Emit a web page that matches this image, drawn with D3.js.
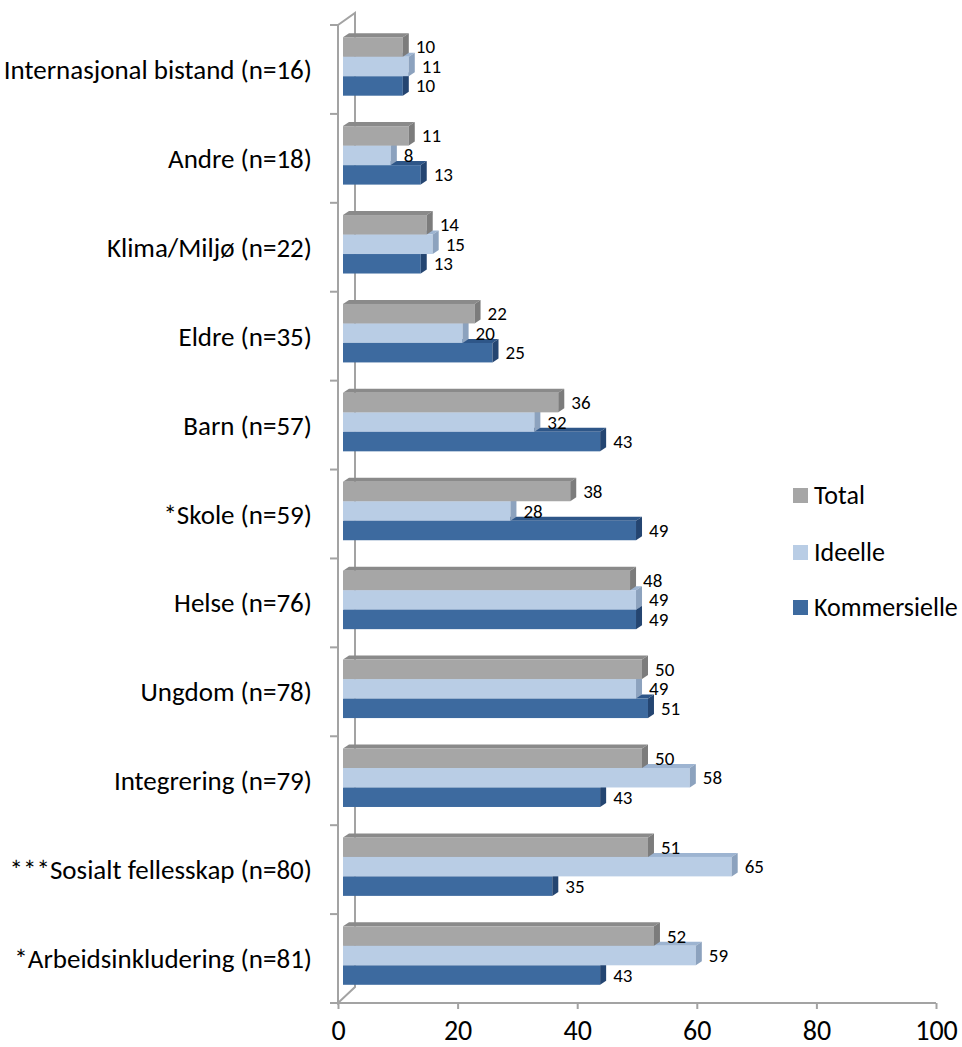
<!DOCTYPE html>
<html>
<head>
<meta charset="utf-8">
<script src="https://cdn.jsdelivr.net/npm/d3@7"></script>
<style>
  html, body { margin: 0; padding: 0; background: #ffffff; }
  svg { display: block; font-family: "Carlito", "Lato", "Open Sans", sans-serif; }
</style>
</head>
<body>
<svg id="chart" width="962" height="1047"></svg>
<script>
const categories = [
  "Internasjonal bistand (n=16)",
  "Andre (n=18)",
  "Klima/Miljø (n=22)",
  "Eldre (n=35)",
  "Barn (n=57)",
  "*Skole (n=59)",
  "Helse (n=76)",
  "Ungdom (n=78)",
  "Integrering (n=79)",
  "***Sosialt fellesskap (n=80)",
  "*Arbeidsinkludering (n=81)"
];
const seriesNames = ["Total", "Ideelle", "Kommersielle"];
const totalValues = [10, 11, 14, 22, 36, 38, 48, 50, 50, 51, 52];
const ideelleValues = [11, 8, 15, 20, 32, 28, 49, 49, 58, 65, 59];
const kommersielleValues = [10, 13, 13, 25, 43, 49, 49, 51, 43, 35, 43];
const xTicks = [0, 20, 40, 60, 80, 100];

const seriesValues = [totalValues, ideelleValues, kommersielleValues];
const front = ["#A6A6A6", "#B9CDE5", "#3D6A9F"];
const topC  = ["#8A8A8A", "#9DB4D1", "#2E5688"];
const sideC = ["#7C7C7C", "#8CA2BE", "#244571"];
const FONT = '"Carlito", "Lato", "Open Sans", sans-serif';

const svg = d3.select("#chart");

const x = d3.scaleLinear().domain([0, 100]).range([338, 936]);
const y = d3.scaleBand().domain(categories).range([25, 1003]).paddingInner(0).paddingOuter(0);
const ys = d3.scaleBand().domain(seriesNames).range([0, y.bandwidth()]).paddingInner(0).paddingOuter(0.78);

const depthX = 5, depthY = -3;   // bars sit slightly behind the front plane
const sideW = 6, sideH = 4;      // bar 3D depth
const wallColor = "#A3A3A3";

// walls
const g = svg.append("g");
g.append("path")
  .attr("d", `M338,25 L355,13 L355,987 L338,1003 Z`)
  .attr("fill", "none").attr("stroke", wallColor).attr("stroke-width", 2);

// left ticks (category boundaries)
const bounds = categories.map(c => y(c)).concat([y.range()[1]]);
g.selectAll("line.ltick").data(bounds).enter().append("line")
  .attr("x1", 330).attr("x2", 338).attr("y1", d => d).attr("y2", d => d)
  .attr("stroke", wallColor).attr("stroke-width", 2);

// bottom axis
const xAxis = d3.axisBottom(x).tickValues(xTicks).tickSize(6).tickSizeOuter(0);
const ax = svg.append("g").attr("transform", "translate(0,1003)").call(xAxis);
ax.select(".domain").attr("stroke", wallColor).attr("stroke-width", 2).attr("d", `M330,0H936`);
ax.selectAll(".tick line").attr("stroke", wallColor).attr("stroke-width", 2);
ax.selectAll(".tick text").attr("fill", "#000").attr("y", 27).attr("dy", "0.36em")
  .style("font-size", "28px").style("font-family", FONT);

// category labels
svg.selectAll("text.cat").data(categories).enter().append("text")
  .attr("x", 312).attr("y", d => y(d) + y.bandwidth() / 2)
  .attr("text-anchor", "end").attr("dominant-baseline", "central")
  .style("font-size", "27px").attr("fill", "#000").text(d => d);

// bars: draw bottom series first so upper bars cover lower top faces
const barsG = svg.append("g");
categories.forEach((cat, ci) => {
  for (let si = seriesNames.length - 1; si >= 0; si--) {
    const v = seriesValues[si][ci];
    const x0 = x(0) + depthX;
    const x1 = x(v) + depthX;
    const y0 = y(cat) + ys(seriesNames[si]) + depthY;
    const h = ys.bandwidth();
    const bg = barsG.append("g");
    bg.append("path")
      .attr("d", `M${x0},${y0} L${x0 + sideW},${y0 - sideH} L${x1 + sideW},${y0 - sideH} L${x1},${y0} Z`)
      .attr("fill", topC[si]);
    bg.append("rect").attr("x", x0).attr("y", y0).attr("width", x1 - x0).attr("height", h)
      .attr("fill", front[si]);
    bg.append("path")
      .attr("d", `M${x1},${y0} L${x1 + sideW},${y0 - sideH} L${x1 + sideW},${y0 + h - sideH} L${x1},${y0 + h} Z`)
      .attr("fill", sideC[si]);
  }
});

// value labels
categories.forEach((cat, ci) => {
  seriesNames.forEach((s, si) => {
    const v = seriesValues[si][ci];
    svg.append("text")
      .attr("x", x(v) + depthX + 13)
      .attr("y", y(cat) + ys(s) + depthY + ys.bandwidth() / 2)
      .attr("dominant-baseline", "central")
      .style("font-size", "19px").attr("fill", "#000").text(v);
  });
});

// legend
const legendY = [495, 552, 607];
const lg = svg.append("g");
seriesNames.forEach((s, si) => {
  lg.append("rect").attr("x", 793).attr("y", legendY[si] - 7).attr("width", 15).attr("height", 15)
    .attr("fill", front[si]);
  lg.append("text").attr("x", 814).attr("y", legendY[si]).attr("dominant-baseline", "central")
    .style("font-size", "26px").attr("fill", "#000").text(s);
});
</script>
</body>
</html>
